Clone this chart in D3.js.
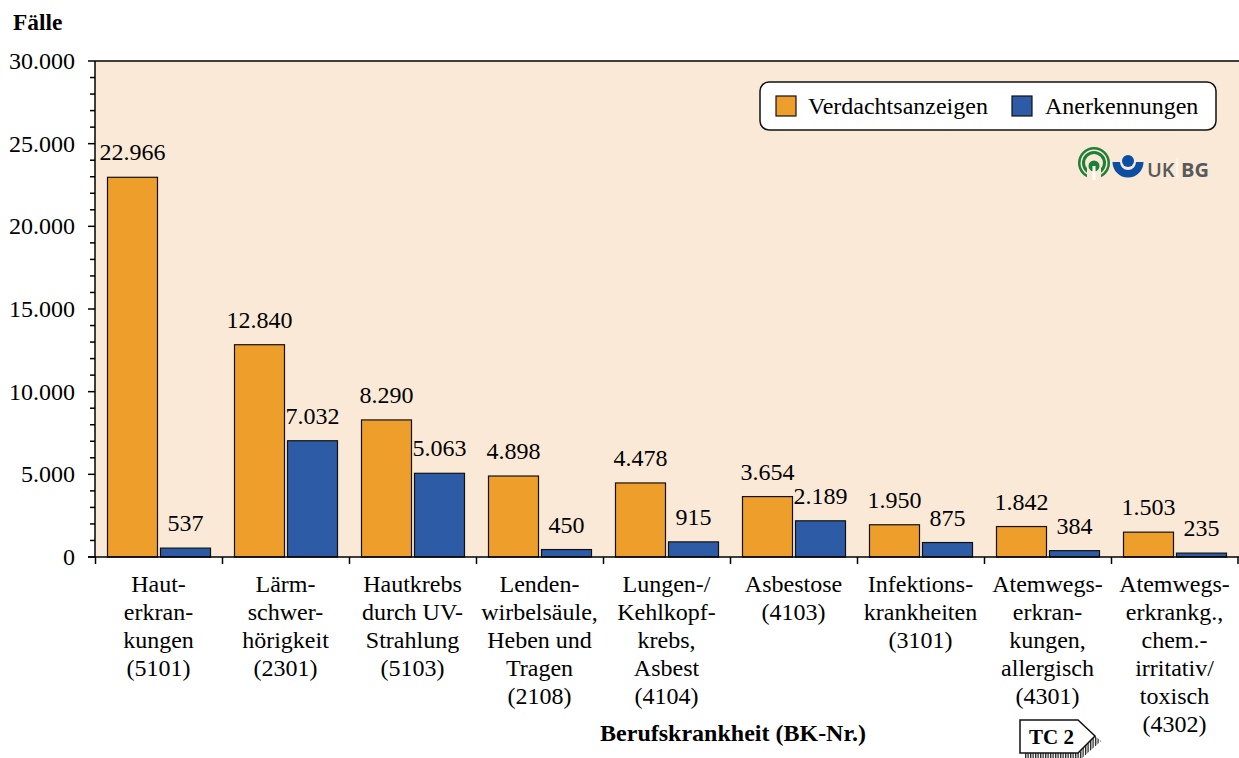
<!DOCTYPE html>
<html><head><meta charset="utf-8">
<script src="https://cdn.jsdelivr.net/npm/d3@7"></script>
<style>html,body{margin:0;padding:0;background:#fff}svg{display:block}text{font-family:"Liberation Serif",serif;fill:#000}</style>
</head><body><svg id="c" width="1239" height="758"></svg>
<script>
const categories=["5101","2301","5103","2108","4104","4103","3101","4301","4302"];
const categoryLabels=[
["Haut-","erkran-","kungen","(5101)"],
["Lärm-","schwer-","hörigkeit","(2301)"],
["Hautkrebs","durch UV-","Strahlung","(5103)"],
["Lenden-","wirbelsäule,","Heben und","Tragen","(2108)"],
["Lungen-/","Kehlkopf-","krebs,","Asbest","(4104)"],
["Asbestose","(4103)"],
["Infektions-","krankheiten","(3101)"],
["Atemwegs-","erkran-","kungen,","allergisch","(4301)"],
["Atemwegs-","erkrankg.,","chem.-","irritativ/","toxisch","(4302)"]];
const verdacht=[22966,12840,8290,4898,4478,3654,1950,1842,1503];
const anerkennung=[537,7032,5063,450,915,2189,875,384,235];
const seriesNames=["Verdachtsanzeigen","Anerkennungen"];
const seriesColors=["#EE9F2B","#2E5BA6"];
const fmt=d=>d3.format(",")(d).replace(/,/g,".");
const FS=24;
const svg=d3.select("#c");
const x=d3.scaleBand().domain(categories).range([95.5,1238.5]);
const y=d3.scaleLinear().domain([0,30000]).range([557,61]);
const sub=d3.scaleBand().domain([0,1]).range([12,115]).paddingInner(3/53);
svg.append("rect").attr("x",95).attr("y",61).attr("width",1144).attr("height",496).attr("fill","#FAE9D6");
[verdacht,anerkennung].forEach((vals,s)=>{
  svg.append("g").selectAll("rect").data(vals).join("rect")
    .attr("x",(d,i)=>x(categories[i])+sub(s)).attr("width",sub.bandwidth())
    .attr("y",d=>y(d)).attr("height",d=>y(0)-y(d))
    .attr("fill",seriesColors[s]).attr("stroke","#111").attr("stroke-width",1.2);
  svg.append("g").selectAll("text").data(vals).join("text")
    .attr("x",(d,i)=>x(categories[i])+sub(s)+sub.bandwidth()/2)
    .attr("y",d=>y(d)-17).attr("text-anchor","middle").attr("font-size",FS).text(fmt);
});
const major=d3.range(0,30001,5000), minor=d3.range(0,30001,1000).filter(d=>d%5000);
const line=(a,b,c,d,w=1.5)=>svg.append("line").attr("x1",a).attr("y1",b).attr("x2",c).attr("y2",d).attr("stroke","#000").attr("stroke-width",w);
major.forEach(d=>{line(88,y(d),95,y(d));
  svg.append("text").attr("x",75).attr("y",y(d)+8).attr("text-anchor","end").attr("font-size",FS).text(fmt(d));});
minor.forEach(d=>line(90,y(d),95,y(d)));
line(95,61,1239,61); line(95,61,95,557); line(88,557,1239,557);
categories.forEach((c,i)=>{
  line(x(c),557,x(c),564);
  categoryLabels[i].forEach((t,j)=>svg.append("text").attr("x",x(c)+63).attr("y",592+j*27.9).attr("text-anchor","middle").attr("font-size",FS).text(t));
});
line(1238,557,1238,564);
svg.append("text").attr("x",13).attr("y",30).attr("font-size",23.4).attr("font-weight","bold").text("Fälle");
svg.append("text").attr("x",733).attr("y",741).attr("text-anchor","middle").attr("font-size",24).attr("font-weight","bold").text("Berufskrankheit (BK-Nr.)");
svg.append("rect").attr("x",760).attr("y",82).attr("width",456).attr("height",48).attr("rx",9).attr("fill","#fff").attr("stroke","#111").attr("stroke-width",1.5);
[[776,808],[1012,1045]].forEach(([a,b],i)=>{
  svg.append("rect").attr("x",a).attr("y",96).attr("width",20).attr("height",20).attr("fill",seriesColors[i]).attr("stroke","#111").attr("stroke-width",1.2);
  svg.append("text").attr("x",b).attr("y",114).attr("font-size",FS).text(seriesNames[i]);
});
const g=svg.append("g");
[[16,"#1E7F36"],[13.5,"#FAE9D6"],[12,"#1E7F36"],[9,"#FAE9D6"]].forEach(([r,f])=>g.append("circle").attr("cx",1094).attr("cy",163).attr("r",r).attr("fill",f));
g.append("rect").attr("x",1087).attr("y",168).attr("width",14).attr("height",11).attr("fill","#FAE9D6");
g.append("circle").attr("cx",1094).attr("cy",166).attr("r",5.5).attr("fill","#1E7F36");
g.append("rect").attr("x",1092.5).attr("y",166).attr("width",3).attr("height",14).attr("fill","#fff");
g.append("circle").attr("cx",1128).attr("cy",161).attr("r",6).attr("fill","#0B4EA2");
g.append("path").attr("d",d3.arc()({innerRadius:8,outerRadius:15.5,startAngle:Math.PI/2,endAngle:Math.PI*1.5})).attr("transform","translate(1128,162)").attr("fill","#0B4EA2");
svg.append("text").attr("x",1147).attr("y",177).attr("font-size",20).attr("font-weight","600").attr("style","font-family:'Open Sans',sans-serif;fill:#58595B").text("UK");
svg.append("line").attr("x1",1177).attr("y1",158).attr("x2",1177).attr("y2",178).attr("stroke","#fff").attr("stroke-width",1);
svg.append("text").attr("x",1181).attr("y",177).attr("font-size",20).attr("font-weight","bold").attr("style","font-family:'Open Sans',sans-serif;fill:#58595B").text("BG");
const defs=svg.append("defs");
const pat=defs.append("pattern").attr("id","h").attr("width",2.5).attr("height",2.5).attr("patternUnits","userSpaceOnUse");
pat.append("rect").attr("width",1.3).attr("height",2.5).attr("fill","#222");
svg.append("path").attr("d","M1025,753 L1079,753 L1095,736 L1101,741 L1081,759 L1025,759 Z").attr("fill","url(#h)");
svg.append("path").attr("d","M1020,720 L1078,720 L1095,736 L1078,753 L1020,753 Z").attr("fill","#fff").attr("stroke","#111").attr("stroke-width",1.5);
svg.append("text").attr("x",1029).attr("y",744).attr("font-size",21).attr("font-weight","bold").text("TC 2");
</script></body></html>
